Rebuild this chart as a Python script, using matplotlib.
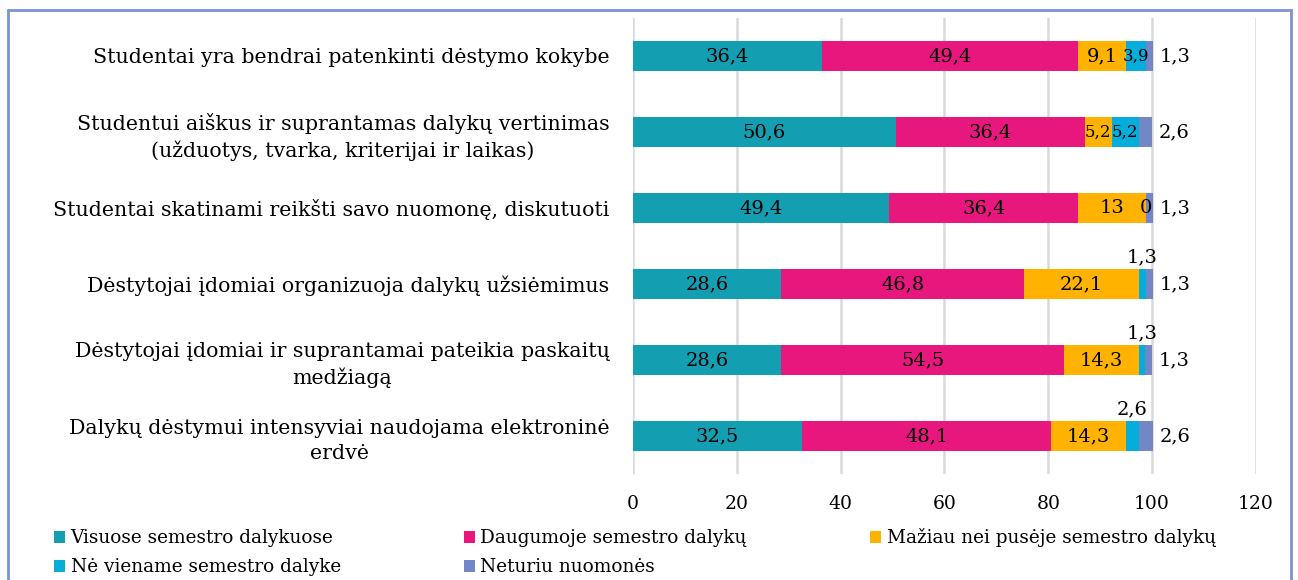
import matplotlib.pyplot as plt
from matplotlib.patches import Rectangle

categories = [
    "Studentai yra bendrai patenkinti dėstymo kokybe",
    "Studentui aiškus ir suprantamas dalykų vertinimas\n(užduotys, tvarka, kriterijai ir laikas)",
    "Studentai skatinami reikšti savo nuomonę, diskutuoti",
    "Dėstytojai įdomiai organizuoja dalykų užsiėmimus",
    "Dėstytojai įdomiai ir suprantamai pateikia paskaitų\nmedžiagą",
    "Dalykų dėstymui intensyviai naudojama elektroninė\nerdvė",
]
series_names = [
    "Visuose semestro dalykuose",
    "Daugumoje semestro dalykų",
    "Mažiau nei pusėje semestro dalykų",
    "Nė viename semestro dalyke",
    "Neturiu nuomonės",
]
visuose = [36.4, 50.6, 49.4, 28.6, 28.6, 32.5]
daugumoje = [49.4, 36.4, 36.4, 46.8, 54.5, 48.1]
maziau = [9.1, 5.2, 13, 22.1, 14.3, 14.3]
ne_viename = [3.9, 5.2, 0, 1.3, 1.3, 2.6]
neturiu = [1.3, 2.6, 1.3, 1.3, 1.3, 2.6]
series = [visuose, daugumoje, maziau, ne_viename, neturiu]
colors = ["#139EB2", "#E8177D", "#FFB300", "#05ADDA", "#7387C7"]
xticks = [0, 20, 40, 60, 80, 100, 120]

FONT = "DejaVu Serif"
plt.rcParams['font.family'] = FONT
LBL = 14


def fmt(v):
    return f"{v:g}".replace('.', ',')


def inside_size(v):
    # narrow segments get a slightly smaller label so neighbours don't collide
    return 12 if 0 < v < 6 else LBL


fig = plt.figure(figsize=(12.98, 5.8), dpi=100)
ax = fig.add_axes([0.4877, 0.183, 0.4799, 0.786])

y = list(range(len(categories)))
left = [0] * len(categories)
bars = []
for vals, name, c in zip(series, series_names, colors):
    b = ax.barh(y, vals, left=left, height=0.4, color=c, label=name, zorder=3)
    bars.append(b)
    left = [l + v for l, v in zip(left, vals)]

# labels inside bars
for si in range(3):
    for i, v in enumerate(series[si]):
        start = sum(series[k][i] for k in range(si))
        ax.text(start + v / 2, i, fmt(v), ha='center', va='center', fontsize=inside_size(v), zorder=4)

# "ne viename": inside for first three rows, above the bar for the rest
for i, v in enumerate(ne_viename):
    start = visuose[i] + daugumoje[i] + maziau[i]
    if i < 3:
        ax.text(start + v / 2, i, fmt(v), ha='center', va='center', fontsize=inside_size(v), zorder=4)
    else:
        ax.annotate(fmt(v), (start + v / 2, i - 0.2), xytext=(0, 2), textcoords='offset points',
                    ha='center', va='bottom', fontsize=LBL)

# "neturiu": right of bar end
for i, v in enumerate(neturiu):
    end = left[i]
    ax.annotate(fmt(v), (end, i), xytext=(5, 0), textcoords='offset points',
                ha='left', va='center', fontsize=LBL)

ax.set_xlim(0, 120)
ax.set_ylim(len(categories) - 0.5, -0.5)
ax.set_xticks(xticks)
ax.set_yticks(y)
ax.set_yticklabels(categories, multialignment='center', fontsize=14.8, linespacing=1.4)
ax.tick_params(axis='both', length=0)
ax.tick_params(axis='x', pad=15, labelsize=13.5)
ax.tick_params(axis='y', pad=17)
ax.grid(axis='x', color='#D9D9D9', lw=1.8, zorder=0)
for s in ax.spines.values():
    s.set_visible(False)

handles = [b[0] for b in bars]
order = [0, 3, 1, 4, 2]
fig.legend([handles[k] for k in order], [series_names[k] for k in order],
           loc='lower left', bbox_to_anchor=(0.033, -0.013, 0.912, 0.1), mode='expand',
           ncol=3, frameon=False, fontsize=13.3, handlelength=0.6, handleheight=0.6,
           handletextpad=0.3, labelspacing=0.6, borderaxespad=0.2)

fig.add_artist(Rectangle((0.0065, -0.05), 0.988, 1.033, transform=fig.transFigure,
                         fill=False, edgecolor='#7F93D3', lw=2))

fig.savefig("out.png", dpi=100)
